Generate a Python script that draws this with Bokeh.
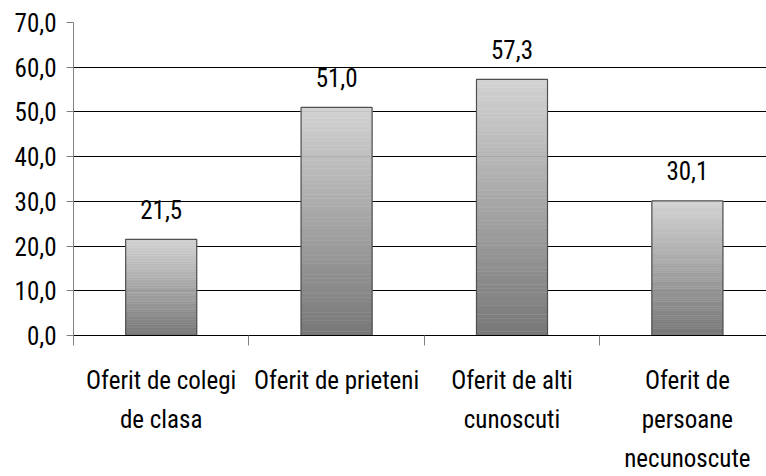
from bokeh.plotting import figure
from bokeh.models import Range1d, FixedTicker, ColumnDataSource
from bokeh.core.properties import value
from bokeh.embed import file_html
from bokeh.resources import INLINE

categories = ["Oferit de colegi\nde clasa", "Oferit de prieteni", "Oferit de alti\ncunoscuti", "Oferit de\npersoane\nnecunoscute"]
values = [21.5, 51.0, 57.3, 30.1]
y_ticks = [0, 10, 20, 30, 40, 50, 60, 70]
y_tick_labels = ["0,0", "10,0", "20,0", "30,0", "40,0", "50,0", "60,0", "70,0"]

FONT = "Roboto Condensed"
FS = "25px"

p = figure(width=766, height=476, output_backend="svg", toolbar_location=None,
           x_range=Range1d(0, 3.951), y_range=Range1d(0, 70),
           min_border_left=73, min_border_right=0, min_border_top=22, min_border_bottom=141)
p.outline_line_color = None
p.xgrid.visible = False
p.ygrid.ticker = FixedTicker(ticks=y_ticks)
p.ygrid.grid_line_color = "#000000"
p.ygrid.grid_line_width = 1

# y axis
p.yaxis.ticker = FixedTicker(ticks=y_ticks)
p.yaxis.major_label_overrides = {t: l for t, l in zip(y_ticks, y_tick_labels)}
p.yaxis.major_tick_out = 7
p.yaxis.major_tick_in = 0
p.yaxis.minor_tick_line_color = None
p.yaxis.axis_line_color = "#808080"
p.yaxis.major_tick_line_color = "#808080"
p.yaxis.major_label_standoff = 10
p.yaxis.major_label_text_font = FONT
p.yaxis.major_label_text_font_size = FS
p.yaxis.major_label_text_color = "#000000"

# x axis: labels at centers, boundary ticks as minor ticks
n = len(categories)
centers = [i + 0.5 for i in range(n)]
p.xaxis.ticker = FixedTicker(ticks=centers, minor_ticks=list(range(n)))
p.xaxis.major_label_overrides = {c: l for c, l in zip(centers, categories)}
p.xaxis.major_tick_out = 0
p.xaxis.major_tick_in = 0
p.xaxis.minor_tick_out = 10
p.xaxis.minor_tick_in = 0
p.xaxis.minor_tick_line_color = "#808080"
p.xaxis.axis_line_color = "#000000"
p.xaxis.major_label_standoff = 20
p.xaxis.major_label_text_font = FONT
p.xaxis.major_label_text_font_size = FS
p.xaxis.major_label_text_line_height = 1.36
p.xaxis.major_label_text_color = "#000000"

# gradient bars
N = 60
bw = 0.405
xs, bottoms, tops, colors = [], [], [], []
dark = (0x78, 0x78, 0x78)
light = (0xd2, 0xd2, 0xd2)
for i, v in enumerate(values):
    for k in range(N):
        t = k / (N - 1)
        c = tuple(int(round(dark[j] + (light[j] - dark[j]) * t)) for j in range(3))
        xs.append(centers[i])
        bottoms.append(v * k / N)
        tops.append(v * (k + 1) / N)
        colors.append("#%02x%02x%02x" % c)
grad = ColumnDataSource(dict(x=xs, bottom=bottoms, top=tops, color=colors))
p.vbar(x="x", bottom="bottom", top="top", width=bw, fill_color="color", line_color="color", line_width=0.5, source=grad)

src = ColumnDataSource(dict(x=centers, top=values, label=[("%.1f" % v).replace(".", ",") for v in values]))
p.vbar(x="x", top="top", bottom=0, width=bw, fill_alpha=0, line_color="#505050", line_width=1.2, source=src)
p.text(x="x", y="top", text="label", source=src, text_align="center", text_baseline="alphabetic",
       y_offset=-30, text_font=value(FONT), text_font_size=FS, text_color="#000000")

open("out.html", "w").write(file_html(p, INLINE))
